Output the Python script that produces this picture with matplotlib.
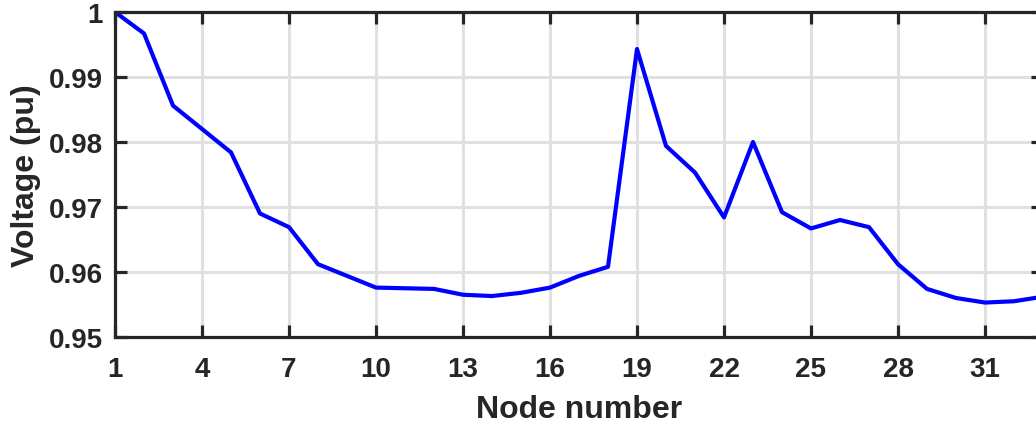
import numpy as np
import matplotlib.pyplot as plt

# bus voltage profile
node = np.arange(1, 34)
voltage = [1.0000, 0.9967, 0.9856, 0.9820, 0.9784, 0.9690, 0.9669, 0.9612,
           0.9594, 0.9576, 0.9575, 0.9574, 0.9565, 0.9563, 0.9568, 0.9576,
           0.9594, 0.9608, 0.9943, 0.9794, 0.9753, 0.9684, 0.9800, 0.9692,
           0.9667, 0.9680, 0.9669, 0.9612, 0.9574, 0.9560, 0.9553, 0.9555,
           0.9562]
xticks = [1, 4, 7, 10, 13, 16, 19, 22, 25, 28, 31]
yticks = [0.95, 0.96, 0.97, 0.98, 0.99, 1.0]
ytick_labels = ['0.95', '0.96', '0.97', '0.98', '0.99', '1']

plt.rcParams['font.family'] = ['Liberation Sans', 'DejaVu Sans']
plt.rcParams['font.weight'] = 'bold'

fig = plt.figure(figsize=(10.36, 4.27), dpi=100)
ax = fig.add_axes([115 / 1036, 89 / 427, 928 / 1036, 325 / 427])

ax.plot(node, voltage, color='#0000ff', linewidth=3.0, zorder=3)

ax.set_xlim(1, 33)
ax.set_ylim(0.95, 1.0)
ax.set_xticks(xticks)
ax.set_yticks(yticks)
ax.set_yticklabels(ytick_labels)

ax.grid(True, color='#e0e0e0', linewidth=2.2, zorder=0)
ax.set_axisbelow(True)
for s in ax.spines.values():
    s.set_color('#262626')
    s.set_linewidth(2.3)
    s.set_zorder(4)
ax.tick_params(direction='in', length=8.5, width=2.3, colors='#262626',
               labelsize=20, top=True, right=True)
ax.tick_params(axis='x', pad=14)
ax.tick_params(axis='y', pad=9)

ax.set_xlabel('Node number', fontsize=23, fontweight='bold', color='#262626', labelpad=8)
ax.set_ylabel('Voltage (pu)', fontsize=23, fontweight='bold', color='#262626', labelpad=5)

fig.savefig('out.png', dpi=100)
